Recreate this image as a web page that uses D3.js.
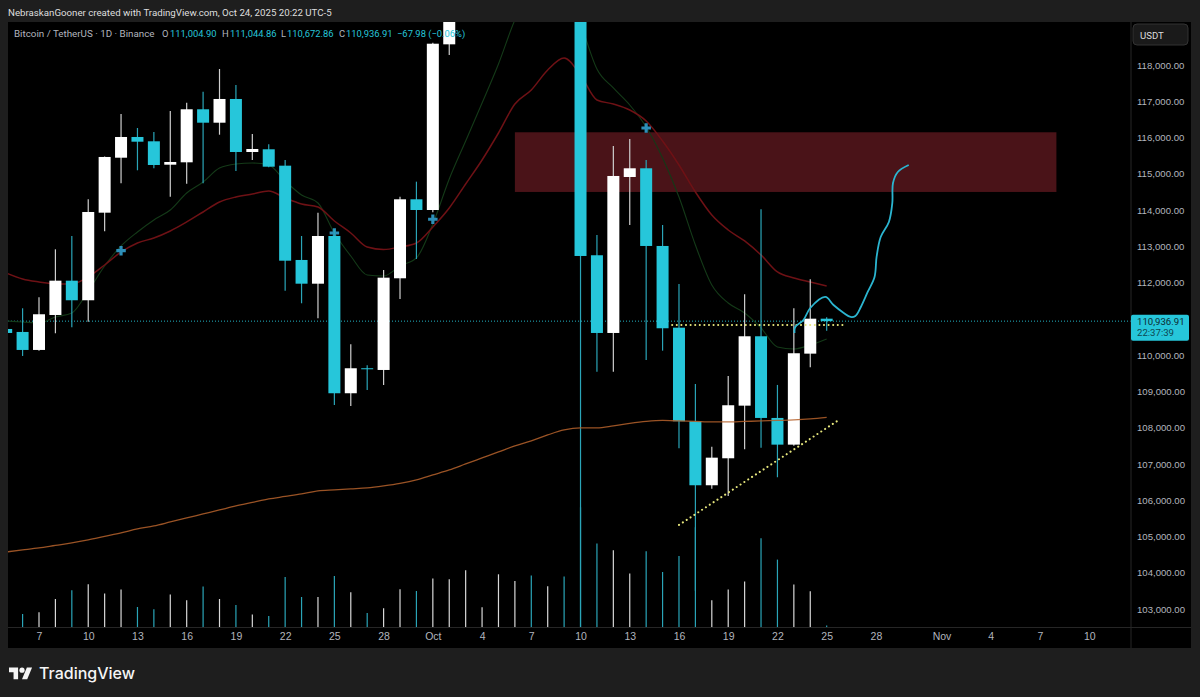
<!DOCTYPE html>
<html>
<head>
<meta charset="utf-8">
<script src="https://d3js.org/d3.v7.min.js"></script>
<style>
    html, body { margin: 0; padding: 0; background: #1e1e1e; overflow: hidden; }
    svg { display: block; font-family: Roboto, "Liberation Sans", sans-serif; }
</style>
</head>
<body>
<div id="graph"></div>
<script>

// Candles. Oct 3 - Oct 9 sit above the top of the pane, so they are not listed
var candleDates = ["2025-09-05","2025-09-06","2025-09-07","2025-09-08","2025-09-09","2025-09-10","2025-09-11","2025-09-12","2025-09-13","2025-09-14",
    "2025-09-15","2025-09-16","2025-09-17","2025-09-18","2025-09-19","2025-09-20","2025-09-21","2025-09-22","2025-09-23","2025-09-24",
    "2025-09-25","2025-09-26","2025-09-27","2025-09-28","2025-09-29","2025-09-30","2025-10-01","2025-10-02",
    "2025-10-10","2025-10-11","2025-10-12","2025-10-13","2025-10-14","2025-10-15","2025-10-16","2025-10-17","2025-10-18","2025-10-19",
    "2025-10-20","2025-10-21","2025-10-22","2025-10-23","2025-10-24","2025-10-25"];
var opens = [110721,110639,110143,111107,112053,111513,113928,115444,116015,115896,
    115251,115317,116779,116409,117063,115601,115676,115224,112624,111970,
    113285,108949,109638,109591,112119,114297,114002,118570,
    121700,112754,110611,114912,115152,113010,110757,108177,106412,107156,
    108607,110520,108268,107532,110041,111004.90];
var highs = [110760,111292,111595,112918,113285,114297,115480,116649,116263,116153,
    116732,116961,117264,117890,117449,116098,115814,115381,113285,113928,
    113470,110300,109721,112348,114369,114783,118615,121000,
    122500,113313,115767,115960,115381,113589,111962,109205,107477,109426,
    111678,114022,109178,111292,112092,111044.86];
var lows = [110580,109977,110120,110603,110768,110923,113415,114738,115097,115152,
    114369,114727,114738,116078,115078,115381,115180,111777,111430,111017,
    108626,108598,109040,109178,111549,112651,113939,118276,
    102000,109545,109545,113589,109866,110123,107432,103500,106319,106117,
    107405,107449,106633,107504,109666,110672.86];
var closes = [110611,110143,111127,112053,111513,113947,115464,116015,115885,115243,
    115326,116779,116409,117063,115601,115684,115196,112604,111970,113285,
    108949,109638,109619,112136,114297,114002,118587,120500,
    112734,110611,114940,115152,113010,110741,108177,106412,107173,108618,
    110520,108268,107532,110052,111004.90,110936.91];

// Daily series, Sep 5 - Oct 25
var maStart = "2025-09-05";
var redMA = [112265,112100,112017,111962,111962,112155,112486,112844,113093,113230,113423,113672,113947,114223,114361,114443,114526,114333,114168,114085,
    113699,113368,112982,112913,112982,113093,113534,114057,114719,115381,116125,116925,117311,117862,118193,117724,117035,116925,116759,116456,
    115905,115243,114499,113864,113451,113148,112762,112293,112128,112017,111907];
var greenMA = [110942,110915,110887,111052,111163,111769,112458,113010,113396,113727,114002,114471,114774,115160,115271,115298,115243,114802,114416,114195,
    113368,112734,112210,112183,112458,112679,113616,114857,115905,116952,118028,119241,120068,120481,120619,119186,117890,117366,116897,116291,
    115436,114361,113037,111935,111438,111163,110749,110225,110170,110280,110446];
var orangeMA = [104573,104628,104684,104753,104821,104904,105001,105097,105207,105290,105400,105511,105621,105731,105842,105938,106035,106103,106172,106255,
    106283,106310,106338,106393,106462,106558,106696,106834,107000,107165,107330,107496,107634,107799,107937,107992,107992,108047,108116,108171,
    108199,108185,108171,108157,108157,108171,108185,108199,108213,108240,108282];

// Volume, Sep 6 - Oct 25, relative units. Oct 10 and Oct 17 run into the long wicks
var volStart = "2025-09-06";
var volumes = [13.3,15,28.3,37,43,33.7,37.7,20.3,18,32.7,27,40.7,28.3,22.3,12.7,11.3,50.3,30.3,30.3,51.3,35,14.3,19,38,36.3,
    48.7,48,57,20,53,46.3,51.7,41,50.7,120,83.7,77,53.7,76,55.3,71.3,100,27,37.7,45.7,89,67.7,42.7,36,1.7];
var volUp = [0,1,1,0,1,1,1,0,0,1,1,0,1,0,1,0,0,0,1,0,1,0,1,1,0,
    1,1,1,1,1,1,0,1,0,0,0,1,1,0,0,0,0,1,1,1,0,0,1,1,0];

// Drawn things
var zoneDates = ["2025-10-06","2025-11-08"];
var zonePrices = [116145,114499];
var levelDates = ["2025-10-15T14:00","2025-10-26T00:00"];
var levelPrices = [110832,110832];
var trendDates = ["2025-10-16T00:00","2025-10-25T20:00"];
var trendPrices = [105318,108240];
var forecastDates = ["2025-10-23T01:00","2025-10-23T02:00","2025-10-23T14:00","2025-10-24T00:00","2025-10-24T22:00","2025-10-25T10:00","2025-10-26T01:00","2025-10-26T11:00","2025-10-26T18:00",
    "2025-10-27T02:00","2025-10-27T12:00","2025-10-27T22:00","2025-10-28T01:00","2025-10-28T07:00","2025-10-28T19:00","2025-10-29T00:00","2025-10-29T01:00","2025-10-29T08:00","2025-10-30T00:00"];
var forecastPrices = [110611,110777,110970,111300,111604,111383,111163,111052,111080,
    111328,111742,112155,112707,113258,113672,114195,114747,115050,115243];
var plusDates = ["2025-09-12","2025-09-25","2025-10-01","2025-10-14"];
var plusPrices = [112880,113368,113746,116263];

// Axis labels. 111,000.00 is hidden behind the last price tag
var priceTicks = [118000,117000,116000,115000,114000,113000,112000,110000,109000,108000,107000,106000,105000,104000,103000];
var timeTicks = ["2025-09-07","2025-09-10","2025-09-13","2025-09-16","2025-09-19","2025-09-22","2025-09-25","2025-09-28","2025-10-01","2025-10-04","2025-10-07",
    "2025-10-10","2025-10-13","2025-10-16","2025-10-19","2025-10-22","2025-10-25","2025-10-28","2025-11-01","2025-11-04","2025-11-07","2025-11-10"];
var timeLabels = ["7","10","13","16","19","22","25","28","Oct","4","7","10","13","16","19","22","25","28","Nov","4","7","10"];
var lastPrice = 110936.91;
var countdown = "22:37:39";

var teal = "#26c6da", white = "#ffffff", labelGrey = "#b2b5be";

var parseDay = d3.utcParse("%Y-%m-%d"),
    parseHour = d3.utcParse("%Y-%m-%dT%H:%M");
var oneDay = 86400000;

function dayAfter(start, i) {
    return new Date(parseDay(start).getTime() + i * oneDay);
}

var w = 1200, h = 697;
var pane = {left: 8, right: 1131, top: 22, bottom: 627};

var svg = d3.select("#graph").append("svg")
    .attr("width", w)
    .attr("height", h);

// Set X
var xScale = d3.scaleUtc()
    .domain([parseDay("2025-09-07"), parseDay("2025-11-07")])
    .range([39, 1040]);

// Set Y
var yScale = d3.scaleLinear()
    .domain([103000, 118000])
    .range([609, 65]);

var volScale = d3.scaleLinear()
    .domain([0, 120])
    .range([pane.bottom + 0.3, pane.bottom + 0.3 - 120]);

// background
svg.append("rect").attr("width", w).attr("height", h).attr("fill", "#1e1e1e");
svg.append("rect")
    .attr("x", pane.left).attr("y", pane.top)
    .attr("width", 1191 - pane.left).attr("height", 648 - pane.top)
    .attr("fill", "#000");

svg.append("defs").append("clipPath").attr("id", "paneClip")
    .append("rect")
    .attr("x", pane.left).attr("y", pane.top)
    .attr("width", pane.right - pane.left).attr("height", pane.bottom - pane.top);

var plot = svg.append("g").attr("clip-path", "url(#paneClip)");

// red zone goes under everything
plot.append("rect")
    .attr("x", xScale(parseDay(zoneDates[0])))
    .attr("y", yScale(zonePrices[0]))
    .attr("width", xScale(parseDay(zoneDates[1])) - xScale(parseDay(zoneDates[0])))
    .attr("height", yScale(zonePrices[1]) - yScale(zonePrices[0]))
    .attr("fill", "#4a1318");

// last price line
plot.append("line")
    .attr("x1", pane.left).attr("x2", pane.right)
    .attr("y1", yScale(lastPrice)).attr("y2", yScale(lastPrice))
    .attr("stroke", teal).attr("stroke-opacity", 0.9)
    .attr("stroke-width", 1).attr("stroke-dasharray", "1 2");

// Draw Lines
var lineMA = d3.line()
    .x(function(d, i) { return xScale(dayAfter(maStart, i)); })
    .y(function(d) { return yScale(d); })
    .curve(d3.curveMonotoneX);

plot.append("path").datum(greenMA)
    .attr("d", lineMA).attr("fill", "none")
    .attr("stroke", "#143a18").attr("stroke-width", 1.1);

plot.append("path").datum(redMA)
    .attr("d", lineMA).attr("fill", "none")
    .attr("stroke", "#6e1115").attr("stroke-width", 1.5);

// volume
plot.selectAll(".vol")
    .data(volumes)
    .enter().append("line")
    .attr("class", "vol")
    .attr("x1", function(d, i) { return xScale(dayAfter(volStart, i)); })
    .attr("x2", function(d, i) { return xScale(dayAfter(volStart, i)); })
    .attr("y1", volScale(0))
    .attr("y2", function(d) { return volScale(d); })
    .attr("stroke", function(d, i) { return volUp[i] ? "#d8d8d8" : "#2aa5b8"; })
    .attr("stroke-width", 1.2);

// blue plus marks
plot.selectAll(".plus")
    .data(plusDates)
    .enter().append("path")
    .attr("class", "plus")
    .attr("d", d3.symbol().type(d3.symbolCross).size(50))
    .attr("transform", function(d, i) {
        return "translate(" + xScale(parseDay(d)) + "," + yScale(plusPrices[i]) + ")";
    })
    .attr("fill", "#2d8fb8");

// candles
var candle = plot.selectAll(".candle")
    .data(candleDates)
    .enter().append("g")
    .attr("class", "candle");

candle.append("line")
    .attr("x1", function(d) { return xScale(parseDay(d)); })
    .attr("x2", function(d) { return xScale(parseDay(d)); })
    .attr("y1", function(d, i) { return yScale(highs[i]); })
    .attr("y2", function(d, i) { return yScale(lows[i]); })
    .attr("stroke", function(d, i) { return closes[i] >= opens[i] ? "#cfcfcf" : "#2aa5b8"; })
    .attr("stroke-width", 1.2);

candle.append("rect")
    .attr("x", function(d) { return xScale(parseDay(d)) - 6; })
    .attr("width", 12)
    .attr("y", function(d, i) { return yScale(Math.max(opens[i], closes[i])); })
    .attr("height", function(d, i) { return Math.max(1, Math.abs(yScale(opens[i]) - yScale(closes[i]))); })
    .attr("fill", function(d, i) { return closes[i] >= opens[i] ? white : teal; });

// 200 line sits on top of the candles
plot.append("path").datum(orangeMA)
    .attr("d", lineMA).attr("fill", "none")
    .attr("stroke", "#b5622c").attr("stroke-opacity", 0.85).attr("stroke-width", 1.3);

// dotted yellow lines
function drawDotted(dates, prices) {
    var pts = dates.map(function(d, i) { return [xScale(parseHour(d)), yScale(prices[i])]; });
    plot.append("path").attr("d", d3.line()(pts))
        .attr("fill", "none")
        .attr("stroke", "#e6e67c")
        .attr("stroke-width", 2)
        .attr("stroke-linecap", "round")
        .attr("stroke-dasharray", "0.1 4.5");
}
drawDotted(levelDates, levelPrices);
drawDotted(trendDates, trendPrices);

// hand drawn forecast
var lineForecast = d3.line()
    .x(function(d, i) { return xScale(parseHour(forecastDates[i])); })
    .y(function(d) { return yScale(d); })
    .curve(d3.curveCatmullRom);

plot.append("path").datum(forecastPrices)
    .attr("d", lineForecast).attr("fill", "none")
    .attr("stroke", "#2bb5d0").attr("stroke-width", 1.8);

// separators
svg.append("line").attr("x1", pane.right).attr("x2", pane.right).attr("y1", pane.top).attr("y2", 648)
    .attr("stroke", "#262626");
svg.append("line").attr("x1", pane.left).attr("x2", 1191).attr("y1", pane.bottom + 0.5).attr("y2", pane.bottom + 0.5)
    .attr("stroke", "#262626");

// call the axes
var yAxis = svg.append("g")
    .attr("transform", "translate(1131,0)")
    .call(d3.axisRight(yScale).tickValues(priceTicks).tickFormat(d3.format(",.2f")).tickSize(0).tickPadding(6));
yAxis.select(".domain").remove();
yAxis.selectAll("text")
    .attr("fill", labelGrey).style("font-size", "9.6px");

var xAxis = svg.append("g")
    .attr("transform", "translate(0," + pane.bottom + ")")
    .call(d3.axisBottom(xScale)
        .tickValues(timeTicks.map(function(d) { return parseDay(d); }))
        .tickFormat(function(d, i) { return timeLabels[i]; })
        .tickSize(0).tickPadding(6));
xAxis.select(".domain").remove();
xAxis.selectAll("text")
    .attr("fill", labelGrey).style("font-size", "10.5px");

// USDT button
svg.append("rect")
    .attr("x", 1133).attr("y", 24).attr("width", 55).attr("height", 21).attr("rx", 4)
    .attr("fill", "#1a1a1a").attr("stroke", "#333");
svg.append("text").attr("x", 1140).attr("y", 39)
    .attr("fill", "#dcdcdc").style("font-size", "9.6px").text("USDT");

// last price tag
svg.append("rect")
    .attr("x", 1131).attr("y", yScale(lastPrice) - 6.5).attr("width", 58).attr("height", 26).attr("rx", 2)
    .attr("fill", teal);
svg.append("text").attr("x", 1137).attr("y", yScale(lastPrice) + 4)
    .attr("fill", "#0d2b33").style("font-size", "9.6px")
    .text(d3.format(",.2f")(lastPrice));
svg.append("text").attr("x", 1137).attr("y", yScale(lastPrice) + 15)
    .attr("fill", "#0d4650").style("font-size", "9.6px")
    .text(countdown);

// header
svg.append("text").attr("x", 8).attr("y", 16)
    .attr("fill", "#dedede").style("font-size", "9.7px")
    .text("NebraskanGooner created with TradingView.com, Oct 24, 2025 20:22 UTC-5");

// OHLC legend
var legendBits = [
    {x: 14, t: "Bitcoin / TetherUS · 1D · Binance", c: labelGrey, s: 9.8},
    {x: 162, t: "O", c: labelGrey, s: 9.4}, {x: 170, t: "111,004.90", c: teal, s: 9.4},
    {x: 222, t: "H", c: labelGrey, s: 9.4}, {x: 230, t: "111,044.86", c: teal, s: 9.4},
    {x: 281, t: "L", c: labelGrey, s: 9.4}, {x: 287, t: "110,672.86", c: teal, s: 9.4},
    {x: 339, t: "C", c: labelGrey, s: 9.4}, {x: 346, t: "110,936.91", c: teal, s: 9.4},
    {x: 397, t: "−67.98 (−0.06%)", c: teal, s: 9.4}
];
svg.selectAll(".legendBit")
    .data(legendBits)
    .enter().append("text")
    .attr("class", "legendBit")
    .attr("x", function(d) { return d.x; })
    .attr("y", 37)
    .attr("fill", function(d) { return d.c; })
    .style("font-size", function(d) { return d.s + "px"; })
    .text(function(d) { return d.t; });

// TradingView logo
var logo = svg.append("g")
    .attr("transform", "translate(9,665) scale(0.65)")
    .attr("fill", "#f5f5f5");
logo.append("path").attr("d", "M14 22H7V11H0V4h14v18zM28 22h-8l7.5-18h8L28 22z");
logo.append("circle").attr("cx", 20).attr("cy", 8).attr("r", 4);

svg.append("text").attr("x", 39).attr("y", 679)
    .attr("fill", "#f5f5f5")
    .style("font-family", "Inter, Roboto, sans-serif")
    .style("font-size", "16px").style("font-weight", 500)
    .text("TradingView");

</script>
</body>
</html>
